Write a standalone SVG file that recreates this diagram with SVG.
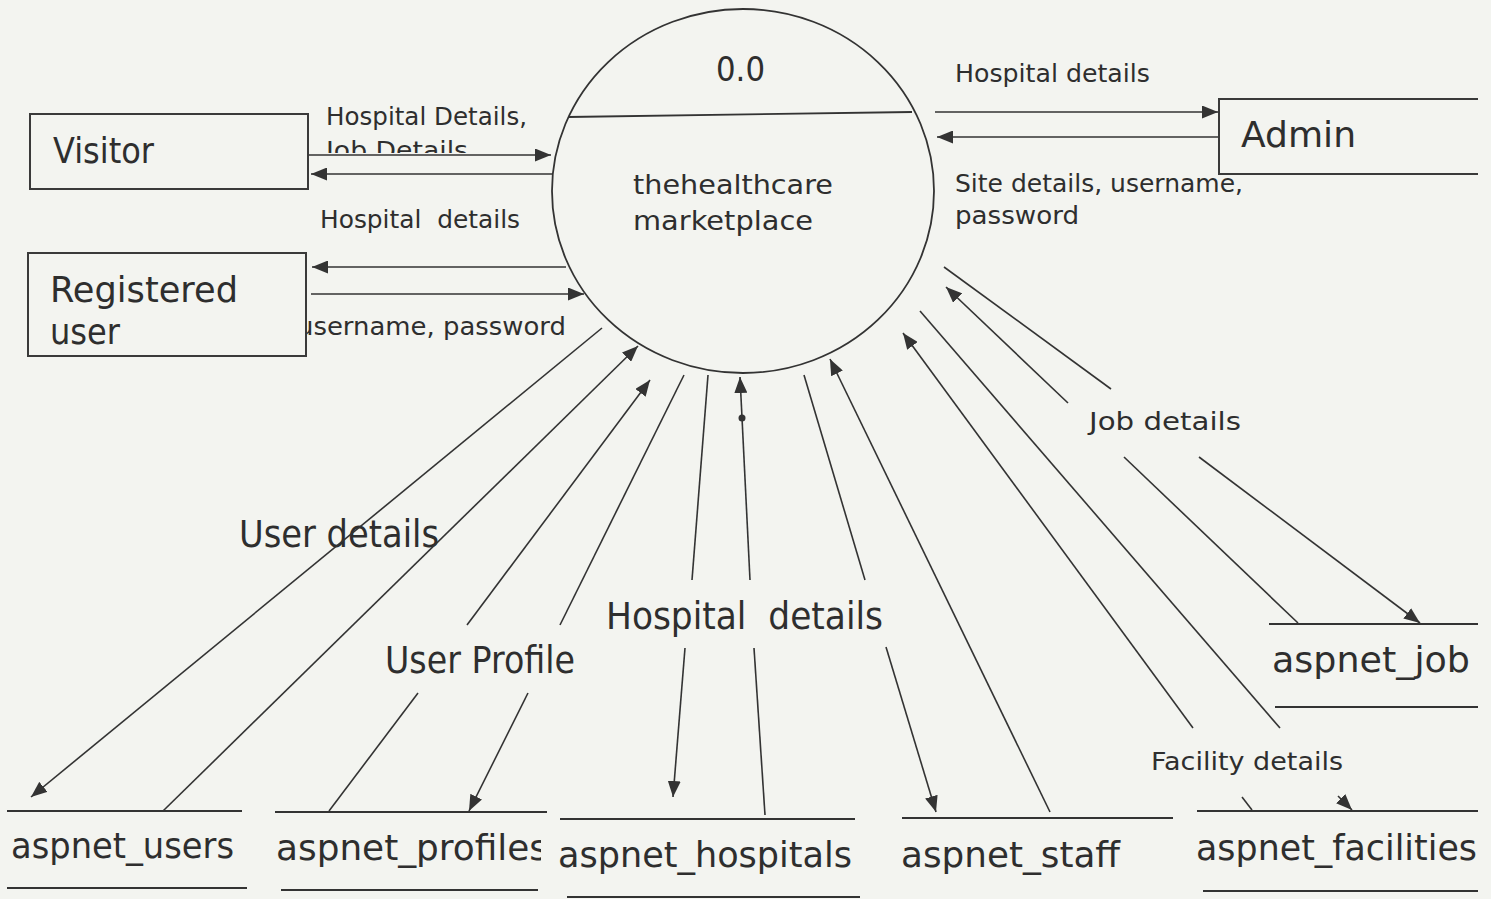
<svg xmlns="http://www.w3.org/2000/svg" width="1491" height="899" viewBox="0 0 1491 899">
<defs>
<style>
.t{font-family:"DejaVu Sans","Liberation Sans",sans-serif;fill:#2e2e2e;}
.s25{font-size:25px;}
.s27{font-size:27px;}
.s34{font-size:34px;}
.s35{font-size:35px;}
.s36{font-size:36px;}
.s37{font-size:37px;}
.box{fill:#f3f4f0;stroke:#3a3a3a;stroke-width:2;}
.ln{fill:none;stroke:#333;stroke-width:1.6;}
.ar{fill:none;stroke:#333;stroke-width:1.6;marker-end:url(#ah);}
.ds{fill:none;stroke:#333;stroke-width:2;}
</style>
<marker id="ah" markerUnits="userSpaceOnUse" markerWidth="17" markerHeight="13" refX="16" refY="6.5" orient="auto">
<path d="M0,0 L16,6.5 L0,13 z" fill="#333"/>
</marker>
<clipPath id="clipJob"><rect x="300" y="120" width="260" height="33"/></clipPath>
<clipPath id="clipProf"><rect x="260" y="820" width="281" height="60"/></clipPath>
</defs>
<rect x="0" y="0" width="1491" height="899" fill="#f3f4f0"/>

<g id="process-0-0">
<ellipse cx="743" cy="191" rx="191" ry="182" fill="none" stroke="#333" stroke-width="1.8"/>
<line x1="568" y1="117" x2="912" y2="112" stroke="#333" stroke-width="1.8"/>
<text class="t s34" x="716" y="81" textLength="49" lengthAdjust="spacingAndGlyphs">0.0</text>
<text class="t s27" x="633" y="194" textLength="200" lengthAdjust="spacingAndGlyphs">thehealthcare</text>
<text class="t s27" x="633" y="230" textLength="180" lengthAdjust="spacingAndGlyphs">marketplace</text>
</g>

<g id="labels">
<text class="t s25" x="326" y="125" textLength="201" lengthAdjust="spacingAndGlyphs">Hospital Details,</text>
<text class="t s25" x="326" y="159" textLength="142" lengthAdjust="spacingAndGlyphs" clip-path="url(#clipJob)">Job Details</text>
<text class="t s25" x="320" y="228" textLength="200" lengthAdjust="spacingAndGlyphs">Hospital&#160; details</text>
<text class="t s25" x="297" y="335" textLength="269" lengthAdjust="spacingAndGlyphs">username, password</text>
<text class="t s25" x="955" y="82" textLength="195" lengthAdjust="spacingAndGlyphs">Hospital details</text>
<text class="t s25" x="955" y="192" textLength="288" lengthAdjust="spacingAndGlyphs">Site details, username,</text>
<text class="t s25" x="955" y="224" textLength="124" lengthAdjust="spacingAndGlyphs">password</text>
<text class="t s37" x="239" y="547" textLength="200" lengthAdjust="spacingAndGlyphs">User details</text>
<text class="t s37" x="385" y="673" textLength="190" lengthAdjust="spacingAndGlyphs">User Profile</text>
<text class="t s37" x="606" y="629" textLength="277" lengthAdjust="spacingAndGlyphs">Hospital&#160; details</text>
<text class="t s25" x="1089" y="430" textLength="152" lengthAdjust="spacingAndGlyphs">Job details</text>
<text class="t s25" x="1151" y="770" textLength="192" lengthAdjust="spacingAndGlyphs">Facility details</text>
</g>

<g id="visitor">
<rect class="box" x="30" y="114" width="278" height="75"/>
<text class="t s36" x="53" y="163" textLength="101" lengthAdjust="spacingAndGlyphs">Visitor</text>
</g>

<g id="registered-user">
<rect class="box" x="28" y="253" width="278" height="103"/>
<text class="t s36" x="50" y="302" textLength="188" lengthAdjust="spacingAndGlyphs">Registered</text>
<text class="t s36" x="50" y="344" textLength="70" lengthAdjust="spacingAndGlyphs">user</text>
</g>

<g id="admin">
<path d="M1478,99 H1219 V174 H1478" fill="none" stroke="#3a3a3a" stroke-width="2"/>
<text class="t s36" x="1241" y="147" textLength="115" lengthAdjust="spacingAndGlyphs">Admin</text>
</g>

<g id="ds-users">
<line class="ds" x1="7" y1="811" x2="242" y2="811"/>
<line class="ds" x1="7" y1="888" x2="247" y2="888"/>
<text class="t s35" x="11" y="858" textLength="223" lengthAdjust="spacingAndGlyphs">aspnet_users</text>
</g>

<g id="ds-profiles">
<line class="ds" x1="275" y1="812" x2="547" y2="812"/>
<line class="ds" x1="281" y1="890" x2="538" y2="890"/>
<text class="t s35" x="276" y="860" textLength="272" lengthAdjust="spacingAndGlyphs" clip-path="url(#clipProf)">aspnet_profiles</text>
</g>

<g id="ds-hospitals">
<line class="ds" x1="560" y1="819" x2="855" y2="819"/>
<line class="ds" x1="567" y1="897" x2="860" y2="897"/>
<text class="t s35" x="558" y="867" textLength="294" lengthAdjust="spacingAndGlyphs">aspnet_hospitals</text>
</g>

<g id="ds-staff">
<line class="ds" x1="902" y1="818" x2="1173" y2="818"/>
<text class="t s35" x="901" y="867" textLength="219" lengthAdjust="spacingAndGlyphs">aspnet_staff</text>
</g>

<g id="ds-facilities">
<line class="ds" x1="1197" y1="811" x2="1478" y2="811"/>
<line class="ds" x1="1203" y1="891" x2="1478" y2="891"/>
<text class="t s35" x="1196" y="860" textLength="281" lengthAdjust="spacingAndGlyphs">aspnet_facilities</text>
</g>

<g id="ds-job">
<line class="ds" x1="1269" y1="624" x2="1478" y2="624"/>
<line class="ds" x1="1275" y1="707" x2="1478" y2="707"/>
<text class="t s35" x="1272" y="672" textLength="198" lengthAdjust="spacingAndGlyphs">aspnet_job</text>
</g>

<g id="connectors">
<line class="ar" x1="309" y1="155" x2="551" y2="155"/>
<line class="ar" x1="553" y1="174" x2="311" y2="174"/>
<line class="ar" x1="566" y1="267" x2="312" y2="267"/>
<line class="ar" x1="311" y1="294" x2="584" y2="294"/>
<line class="ar" x1="935" y1="112" x2="1218" y2="112"/>
<line class="ar" x1="1218" y1="137" x2="937" y2="137"/>
<line class="ar" x1="602" y1="328" x2="31" y2="797"/>
<line class="ar" x1="163" y1="811" x2="638" y2="346"/>
<line class="ln" x1="329" y1="811" x2="418" y2="693"/>
<line class="ar" x1="467" y1="625" x2="650" y2="380"/>
<line class="ln" x1="684" y1="375" x2="560" y2="625"/>
<line class="ar" x1="528" y1="693" x2="469" y2="811"/>
<line class="ln" x1="708" y1="375" x2="692" y2="580"/>
<line class="ar" x1="685" y1="648" x2="673" y2="797"/>
<line class="ln" x1="765" y1="815" x2="754" y2="648"/>
<line class="ar" x1="750" y1="580" x2="740" y2="377"/>
<circle cx="742" cy="418" r="3.5" fill="#333"/>
<line class="ln" x1="804" y1="375" x2="865" y2="580"/>
<line class="ar" x1="886" y1="647" x2="936" y2="812"/>
<line class="ar" x1="1050" y1="812" x2="830" y2="359"/>
<line class="ln" x1="1252" y1="810" x2="1242" y2="797"/>
<line class="ar" x1="1193" y1="728" x2="903" y2="333"/>
<line class="ln" x1="920" y1="311" x2="1280" y2="728"/>
<line class="ar" x1="1338" y1="796" x2="1352" y2="810"/>
<line class="ln" x1="944" y1="267" x2="1111" y2="389"/>
<line class="ar" x1="1199" y1="457" x2="1420" y2="623"/>
<line class="ln" x1="1298" y1="623" x2="1124" y2="457"/>
<line class="ar" x1="1068" y1="403" x2="946" y2="287"/>
</g>
</svg>
